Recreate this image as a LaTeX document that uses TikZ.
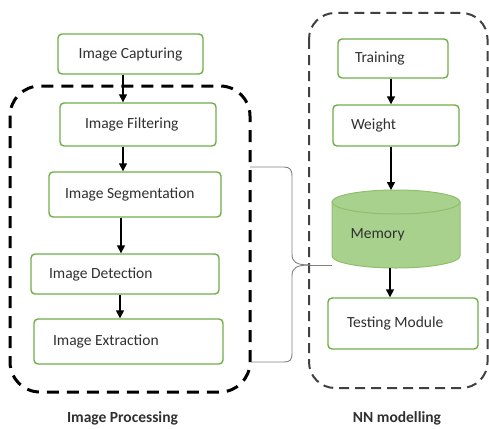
\documentclass[tikz,border=0pt]{standalone}
\usepackage{fontspec}
\setmainfont{Carlito}
\usetikzlibrary{arrows.meta}
\definecolor{boxgreen}{HTML}{70AD47}
\definecolor{memfill}{HTML}{A9D18E}
\definecolor{memdraw}{HTML}{8DBF6C}
\definecolor{txt}{HTML}{303030}
\definecolor{bracegray}{HTML}{808080}
\begin{document}
\begin{tikzpicture}[x=1pt,y=-1pt,
  box/.style={draw=boxgreen, line width=1.4pt, rounded corners=4pt, fill=white,
    inner xsep=0pt, inner ysep=0pt, text=txt, font=\fontsize{15.5}{18}\selectfont},
  arr/.style={draw=black, line width=1.4pt, -{Triangle[length=8pt,width=8pt]}},
  group/.style={dashed, rounded corners=30pt},
  brace/.style={draw=bracegray, line width=0.9pt},
  captext/.style={font=\bfseries\fontsize{15.5}{18}\selectfont, text=txt}
]
\useasboundingbox (0,0) rectangle (489,428);
% groups
\draw[group, line width=3pt, dash pattern=on 12pt off 8pt] (10,86) rectangle (250,392);
\draw[group, line width=2pt, draw=black!75, dash pattern=on 10pt off 6pt, rounded corners=26pt] (309,13) rectangle (487.5,388);
% left boxes
\node[box, minimum width=145pt, minimum height=40pt] (capt) at (130.5,54) {\makebox[145pt][c]{Image Capturing}};
\node[box, minimum width=156pt, minimum height=43pt] (filt) at (138,124.5) {\makebox[156pt][l]{\hspace*{25pt}Image Filtering}};
\node[box, minimum width=172pt, minimum height=45pt] (seg) at (135,194.5) {\makebox[172pt][l]{\hspace*{16pt}Image Segmentation}};
\node[box, minimum width=188pt, minimum height=40pt] (det) at (125,274) {\makebox[188pt][l]{\hspace*{18pt}Image Detection}};
\node[box, minimum width=189pt, minimum height=45pt] (ext) at (128.5,341.5) {\makebox[189pt][l]{\hspace*{19pt}Image Extraction}};
% right boxes
\node[box, minimum width=110pt, minimum height=39pt] (train) at (393,58.5) {\makebox[110pt][l]{\hspace*{17pt}Training}};
\node[box, minimum width=126pt, minimum height=41pt] (weight) at (396,125.5) {\makebox[126pt][l]{\hspace*{18pt}Weight}};
\node[box, minimum width=150pt, minimum height=51pt] (test) at (403,323.5) {\makebox[150pt][l]{\hspace*{19pt}Testing Module}};
% memory cylinder
\filldraw[fill=memfill, draw=memdraw, line width=1pt] (332,202) -- (332,256) arc[start angle=180, end angle=0, x radius=64, y radius=12] -- (460,202) -- cycle;
\filldraw[fill=memfill, draw=memdraw, line width=1pt] (396,202) ellipse [x radius=64, y radius=12];
\node[text=txt, font=\fontsize{15.5}{18}\selectfont, anchor=west] (mem) at (347,235) {Memory};
\coordinate (memtop) at (391,190);
\coordinate (membot) at (390,268);
\coordinate (memL) at (332,265);
% brace
\coordinate (bt) at (250,167);
\coordinate (bb) at (251,362);
\coordinate (tip) at (310,265);
\draw[brace] (bt) -- (284,167) .. controls (290,167) and (292,170) .. (292,176) -- (292,254) .. controls (292,262) and (296,265) .. (tip);
\draw[brace] (tip) .. controls (296,265) and (292,268) .. (292,276) -- (292,353) .. controls (292,360) and (290,362) .. (284,362) -- (bb);
\draw[brace] (tip) -- (memL);
% arrows
\coordinate (la) at (123,0);
\draw[arr] (capt.south -| la) -- (filt.north -| la);
\draw[arr] (filt.south -| la) -- (seg.north -| la);
\coordinate (lb) at (121,0);
\draw[arr] (seg.south -| lb) -- (det.north -| lb);
\coordinate (lc) at (120,0);
\draw[arr] (det.south -| lc) -- (ext.north -| lc);
\coordinate (ra) at (391,0);
\draw[arr] (train.south -| ra) -- (weight.north -| ra);
\draw[arr] (weight.south -| ra) -- (memtop);
\draw[arr] (membot) -- (test.north -| membot);
% captions
\node[captext] (lip) at (122.5,418) {Image Processing};
\node[captext] (lnn) at (397,418) {NN modelling};
\end{tikzpicture}
\end{document}
